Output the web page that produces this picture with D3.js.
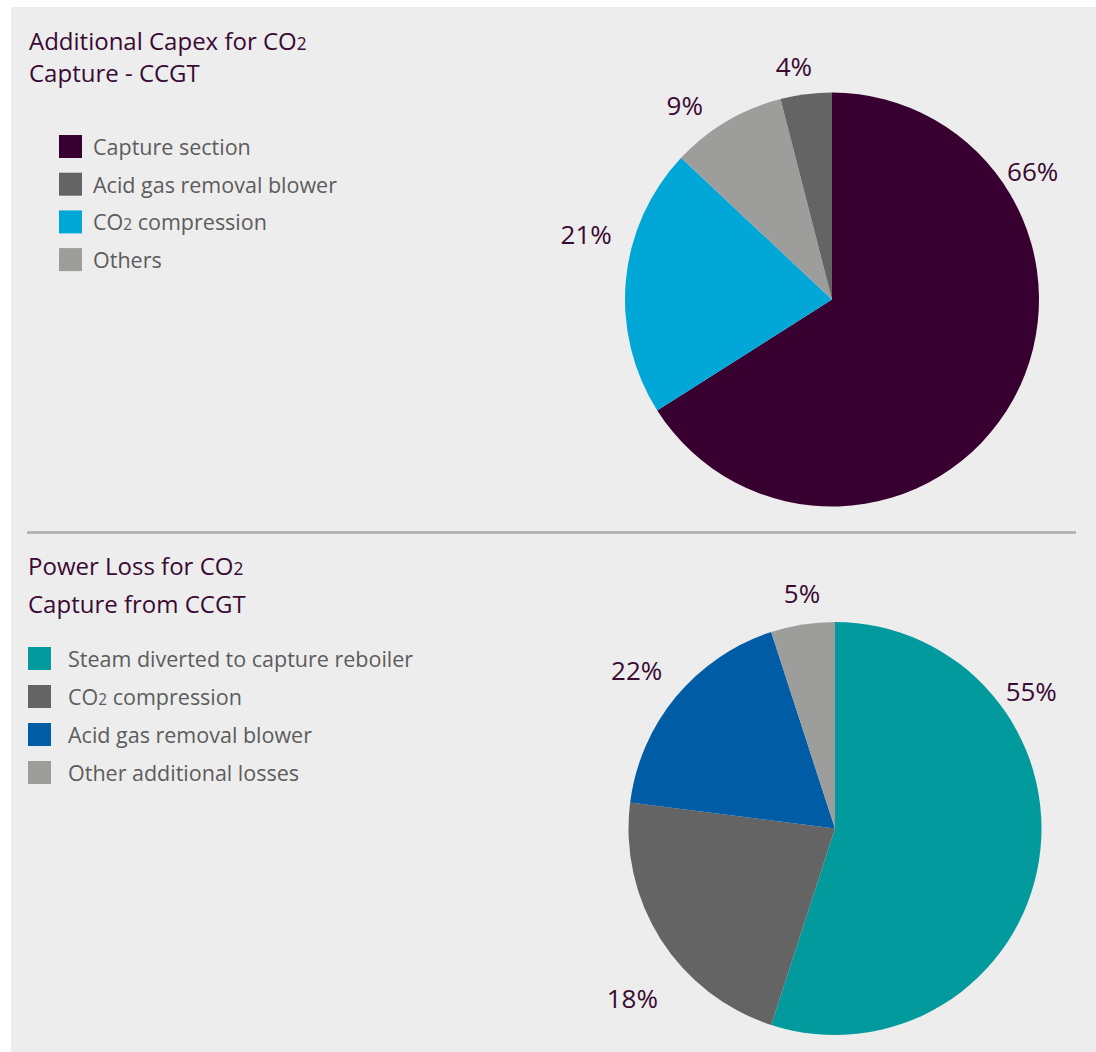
<!DOCTYPE html>
<html>
<head>
<meta charset="utf-8">
<script src="https://cdn.jsdelivr.net/npm/d3@7"></script>
<style>
  html, body { margin: 0; padding: 0; background: #ffffff; }
  svg { display: block; }
</style>
</head>
<body>
<div id="chart"></div>
<script>
// ---------- DATA ----------
// Chart 1: Additional Capex for CO2 Capture - CCGT (legend order)
const capexCategories = ["Capture section", "Acid gas removal blower", "CO2 compression", "Others"];
const capexValues = [66, 4, 21, 9];
const capexLabels = ["66%", "4%", "21%", "9%"];
const capexPieOrder = [0, 2, 3, 1]; // clockwise order of slices from 12 o'clock

// Chart 2: Power Loss for CO2 Capture from CCGT (legend order)
const lossCategories = ["Steam diverted to capture reboiler", "CO2 compression", "Acid gas removal blower", "Other additional losses"];
const lossValues = [55, 22, 18, 5];
const lossLabels = ["55%", "18%", "22%", "5%"];
const lossPieOrder = [0, 1, 2, 3];

// ---------- STYLE / LAYOUT ----------
const W = 1096, H = 1052;
const capexColors = ["#380030", "#646464", "#00a7d7", "#9d9d9c"];
const lossColors = ["#039a9e", "#646464", "#005ca5", "#9d9d9c"];
// label placement (angle in degrees clockwise from top, radius) per legend item
const capexLabelPos = [[57.5, 238], [350.7, 236], [284.6, 254], [322.7, 243]];
const lossLabelPos = [[55.2, 239], [229.9, 265], [308.4, 253], [352, 237]];

const svg = d3.select("#chart").append("svg").attr("width", W).attr("height", H);
svg.append("rect").attr("x", 11).attr("y", 7).attr("width", W - 11).attr("height", H - 7).attr("fill", "#ededed");

// separator
svg.append("line").attr("x1", 27).attr("x2", 1076).attr("y1", 532.5).attr("y2", 532.5)
  .attr("stroke", "#ababab").attr("stroke-width", 2.5);

const FONT = "'Open Sans', 'Noto Sans', sans-serif";
const TITLE_FS = 24, LEGEND_FS = 21.5, LABEL_FS = 26;

function co2Text(sel, str, fs) {
  // render "CO2" with a smaller 2
  const parts = str.split("CO2");
  parts.forEach((p, i) => {
    if (p) sel.append("tspan").text(p);
    if (i < parts.length - 1) {
      sel.append("tspan").text("CO");
      sel.append("tspan").attr("font-size", fs * 0.72).text("2");
    }
  });
}

function drawPanel(opt) {
  const g = svg.append("g");
  // title
  opt.title.forEach((line, i) => {
    const t = g.append("text").attr("x", opt.titleX).attr("y", opt.titleY[i])
      .attr("font-family", FONT).attr("font-size", TITLE_FS).attr("fill", "#3a0a33");
    co2Text(t, line, TITLE_FS);
  });
  // legend
  opt.categories.forEach((c, i) => {
    const y = opt.legendY + i * opt.legendStep;
    g.append("rect").attr("x", opt.legendX).attr("y", y).attr("width", 23).attr("height", 23)
      .attr("fill", opt.colors[i]);
    const t = g.append("text").attr("x", opt.legendX + opt.textGap).attr("y", y + 20)
      .attr("font-family", FONT).attr("font-size", LEGEND_FS).attr("fill", "#5c5c5c");
    co2Text(t, c, LEGEND_FS);
  });
  // pie
  const items = opt.order.map(i => ({ i, v: opt.values[i] }));
  const pie = d3.pie().sort(null).value(d => d.v);
  const arc = d3.arc().innerRadius(0).outerRadius(opt.r);
  const pg = g.append("g").attr("transform", `translate(${opt.cx},${opt.cy})`);
  pg.selectAll("path").data(pie(items)).join("path")
    .attr("d", arc).attr("fill", d => opt.colors[d.data.i]);
  // labels
  opt.labels.forEach((lab, i) => {
    const [deg, rad] = opt.labelPos[i];
    const a = deg * Math.PI / 180;
    pg.append("text")
      .attr("x", rad * Math.sin(a)).attr("y", -rad * Math.cos(a) + 9)
      .attr("text-anchor", "middle")
      .attr("font-family", FONT).attr("font-size", LABEL_FS).attr("fill", "#3a0a33")
      .text(lab);
  });
}

drawPanel({
  title: ["Additional Capex for CO2", "Capture - CCGT"],
  titleX: 29, titleY: [50, 82],
  categories: capexCategories, values: capexValues, labels: capexLabels,
  order: capexPieOrder, colors: capexColors, labelPos: capexLabelPos,
  legendX: 59, legendY: 135, legendStep: 37.7, textGap: 34,
  cx: 832, cy: 299.5, r: 207
});

drawPanel({
  title: ["Power Loss for CO2", "Capture from CCGT"],
  titleX: 28, titleY: [575, 613],
  categories: lossCategories, values: lossValues, labels: lossLabels,
  order: lossPieOrder, colors: lossColors, labelPos: lossLabelPos,
  legendX: 28, legendY: 647, legendStep: 38, textGap: 40,
  cx: 835, cy: 828.5, r: 206.5
});
</script>
</body>
</html>
